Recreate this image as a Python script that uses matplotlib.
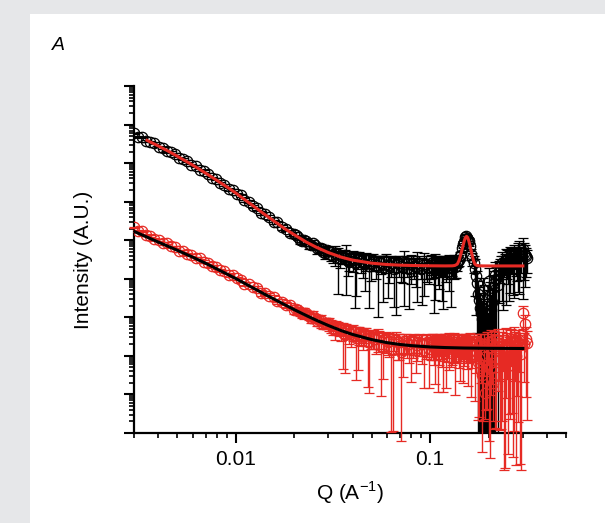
#Importing numpy and pyplot
import numpy as np
import matplotlib
matplotlib.use('Agg')
import matplotlib.pyplot as plt
from matplotlib.patches import Rectangle
from matplotlib.ticker import LogLocator, NullFormatter

plt.rcParams['font.family'] = 'Liberation Sans'
plt.rcParams['mathtext.fontset'] = 'custom'
plt.rcParams['mathtext.rm'] = 'Liberation Sans'

#Q values (A^-1), first run of points, same for both curves
q = [0.0030, 0.00315, 0.0033, 0.00347, 0.00364, 0.00382, 0.00401, 0.00421, 0.00442, 0.00464,
     0.00487, 0.00512, 0.00537, 0.00564, 0.00592, 0.00622, 0.00653, 0.00686, 0.0072, 0.00756,
     0.00794, 0.00834, 0.00875, 0.00919, 0.00965, 0.0101,
     0.0106, 0.0111, 0.0117, 0.0123, 0.0129, 0.0135, 0.0142, 0.0149, 0.0157, 0.0164,
     0.0173, 0.0181, 0.0190, 0.0200, 0.0210, 0.0220, 0.0231, 0.0243, 0.0255, 0.0268, 0.0281, 0.0295,
     0.0310, 0.0323, 0.0336, 0.0349, 0.0363, 0.0378, 0.0393, 0.0409, 0.0425, 0.0442,
     0.0460, 0.0478, 0.0497, 0.0517, 0.0538, 0.0559, 0.0582, 0.0605, 0.0629, 0.0654,
     0.0680, 0.0708, 0.0736, 0.0765, 0.0796, 0.0828, 0.0861, 0.0896, 0.0931, 0.0969, 0.1007,
     0.1032, 0.1058, 0.1085, 0.1112, 0.1140, 0.1168, 0.1197, 0.1227, 0.1258, 0.1290, 0.1322, 0.1355,
     0.1389, 0.1424, 0.1459, 0.1496, 0.1533, 0.1572, 0.1611, 0.1651,
     0.1693, 0.1735, 0.1778, 0.1823, 0.1869, 0.1915, 0.1963, 0.2012, 0.2063, 0.2114, 0.2167, 0.2222,
     0.2277, 0.2334, 0.2393, 0.2453, 0.2514, 0.2577, 0.2641, 0.2707, 0.2775, 0.2844, 0.2915, 0.2988,
     0.3063, 0.3140]

#Upper data set (black), log10 of intensity
log_i_top = [7.77, 7.69, 7.67, 7.58, 7.56, 7.52, 7.43, 7.40, 7.31, 7.28, 7.24, 7.13, 7.11,
             7.05, 6.96, 6.93, 6.82, 6.79, 6.71, 6.62, 6.59, 6.48, 6.44, 6.33, 6.30, 6.20,
             6.17, 6.05, 6.00, 5.88, 5.83, 5.71, 5.69, 5.59, 5.48, 5.46, 5.34, 5.30, 5.19,
             5.17, 5.08, 4.99, 4.99, 4.87, 4.87, 4.80, 4.70, 4.74,
             4.62, 4.67, 4.53, 4.60, 4.61, 4.47, 4.52, 4.40, 4.52, 4.46, 4.38, 4.49, 4.39,
             4.45, 4.30, 4.42, 4.46, 4.32, 4.40, 4.26, 4.42, 4.32, 4.44, 4.28, 4.39, 4.32,
             4.41, 4.25, 4.39, 4.30, 4.42,
             4.28, 4.37, 4.40, 4.26, 4.36, 4.31, 4.40, 4.29, 4.37, 4.31, 4.40, 4.32,
             4.46, 4.59, 4.80, 4.95, 5.11, 5.00, 4.84, 4.53,
             4.25, 3.90, 3.45, 3.10, 3.70, 2.85, 3.35, 3.95, 3.20, 3.75, 4.10, 3.85,
             4.30, 4.42, 4.35, 4.48, 4.40, 4.55, 4.47, 4.60, 4.52, 4.65, 4.58, 4.77, 4.62, 4.55]

#Upper data set, relative error
rel_err_top = [0.04, 0.05, 0.04, 0.06, 0.05, 0.04, 0.05, 0.06, 0.04, 0.05, 0.06, 0.05, 0.04,
               0.06, 0.05, 0.07, 0.05, 0.06, 0.07, 0.05, 0.08, 0.06, 0.07, 0.09, 0.06, 0.08,
               0.09, 0.12, 0.08, 0.11, 0.10, 0.14, 0.09, 0.13, 0.12, 0.10, 0.16, 0.12, 0.18,
               0.11, 0.15, 0.20, 0.13, 0.22, 0.17, 0.25, 0.19, 0.28,
               0.30, 0.55, 0.88, 0.35, 0.40, 0.60, 0.32, 0.93, 0.45, 0.50, 0.80, 0.38, 0.65,
               0.42, 0.95, 0.48, 0.36, 0.85, 0.55, 0.90, 0.44, 0.60, 0.93, 0.40, 0.70, 0.52,
               0.90, 0.46, 0.85, 0.58, 0.62,
               0.45, 0.88, 0.50, 0.70, 0.40, 0.92, 0.55, 0.48, 0.80, 0.42, 0.60, 0.50,
               0.30, 0.25, 0.20, 0.18, 0.15, 0.18, 0.22, 0.35,
               0.80, 0.95, 1.20, 1.40, 1.10, 1.50, 1.30, 1.15, 1.45, 1.25, 1.10, 1.35,
               0.60, 0.90, 0.50, 0.93, 0.70, 0.88, 0.55, 0.92, 0.65, 0.90, 0.75, 0.95, 0.85, 0.60]

#Lower data set (red), log10 of intensity
log_i_bot = [5.33, 5.24, 5.23, 5.13, 5.11, 5.03, 5.01, 4.92, 4.92, 4.84, 4.82, 4.73, 4.72,
             4.65, 4.62, 4.53, 4.53, 4.44, 4.41, 4.33, 4.31, 4.23, 4.20, 4.09, 4.10, 4.02,
             3.98, 3.87, 3.87, 3.78, 3.75, 3.64, 3.64, 3.56, 3.52, 3.42, 3.41, 3.33, 3.31,
             3.19, 3.19, 3.12, 3.11, 2.99, 2.99, 2.93, 2.83, 2.86,
             2.79, 2.68, 2.76, 2.68, 2.55, 2.66, 2.58, 2.62, 2.47, 2.55, 2.56, 2.35, 2.49,
             2.43, 2.49, 2.26, 2.43, 2.37, 2.18, 2.41, 2.36, 2.09, 2.39, 2.33, 2.15, 2.38,
             2.29, 2.34, 2.16, 2.37, 2.28,
             2.34, 2.19, 2.37, 2.29, 2.33, 2.16, 2.37, 2.30, 2.34, 2.19, 2.37, 2.28,
             2.32, 2.16, 2.35, 2.30, 2.34, 2.23, 2.37, 2.28, 2.13, 2.35,
             1.95, 2.30, 1.60, 1.05, 2.32, 1.80, 2.38, 1.30, 2.25, 2.40, 1.90, 2.32,
             2.05, 2.42, 1.75, 2.36, 2.21, 2.44, 2.00, 2.37, 2.29, 3.10, 2.82, 2.34]

#Lower data set, relative error
rel_err_bot = [0.05, 0.06, 0.05, 0.07, 0.05, 0.06, 0.05, 0.07, 0.06, 0.05, 0.07, 0.06, 0.08,
               0.06, 0.07, 0.08, 0.06, 0.09, 0.07, 0.08, 0.10, 0.07, 0.09, 0.08, 0.10, 0.09,
               0.12, 0.10, 0.14, 0.11, 0.13, 0.16, 0.12, 0.15, 0.18, 0.14, 0.17, 0.20, 0.15,
               0.22, 0.18, 0.25, 0.20, 0.28, 0.22, 0.30, 0.25, 0.32,
               0.35, 0.45, 0.30, 0.50, 0.90, 0.40, 0.55, 0.38, 0.85, 0.48, 0.42, 0.93, 0.52,
               0.45, 0.60, 0.95, 0.50, 0.55, 0.993, 0.48, 0.65, 0.995, 0.52, 0.58, 0.85, 0.50,
               0.62, 0.55, 0.90, 0.60, 0.58,
               0.65, 0.88, 0.55, 0.70, 0.60, 0.92, 0.58, 0.66, 0.80, 0.62, 0.70, 0.64,
               0.68, 0.85, 0.62, 0.72, 0.66, 0.90, 0.70, 0.75, 0.95, 0.68,
               0.97, 0.90, 0.95, 0.80, 0.98, 0.99, 0.96, 0.90, 0.993, 0.95, 0.985, 0.99,
               0.999, 0.97, 0.995, 0.99, 0.98, 0.996, 0.9985, 0.992, 0.9992, 0.60, 0.70, 0.99]

#Second run of points (Q > 0.02), between the first ones
q2 = [0.0205, 0.0215, 0.0225, 0.0237, 0.0249, 0.0261, 0.0274, 0.0288, 0.0302, 0.0316,
      0.0330, 0.0343, 0.0356, 0.0370, 0.0385, 0.0401, 0.0417, 0.0433, 0.0451, 0.0469,
      0.0487, 0.0507, 0.0527, 0.0548, 0.0570, 0.0593, 0.0617, 0.0641, 0.0667, 0.0694,
      0.0722, 0.0750, 0.0780, 0.0812, 0.0844, 0.0878, 0.0913, 0.0950, 0.0988, 0.1020,
      0.1045, 0.1071, 0.1098, 0.1126, 0.1154, 0.1182, 0.1212, 0.1242, 0.1274, 0.1306,
      0.1338, 0.1372, 0.1406, 0.1441, 0.1477, 0.1514, 0.1552, 0.1591, 0.1631, 0.1672,
      0.1714, 0.1756, 0.1800, 0.1846, 0.1892, 0.1939, 0.1987, 0.2037, 0.2088, 0.2140,
      0.2194, 0.2249, 0.2305, 0.2363, 0.2423, 0.2483, 0.2545, 0.2609, 0.2674, 0.2741,
      0.2809, 0.2879, 0.2951, 0.3025, 0.3100]

log_i_top2 = [5.14, 5.01, 5.00, 4.89, 4.92, 4.79, 4.81, 4.67, 4.72, 4.60,
              4.67, 4.53, 4.58, 4.59, 4.44, 4.53, 4.43, 4.54, 4.42, 4.49,
              4.33, 4.47, 4.37, 4.44, 4.31, 4.46, 4.35, 4.42, 4.28, 4.40,
              4.30, 4.43, 4.26, 4.40, 4.31, 4.42, 4.27, 4.38, 4.29, 4.41,
              4.26, 4.39, 4.30, 4.42, 4.28, 4.38, 4.32, 4.41, 4.27, 4.39,
              4.31, 4.42, 4.49, 4.62, 4.89, 5.08, 5.07, 4.97, 4.65, 4.42,
              4.07, 3.60, 3.25, 2.95, 3.50, 3.05, 2.70, 3.60, 3.40, 3.90,
              4.00, 4.20, 4.38, 4.30, 4.45, 4.52, 4.43, 4.58, 4.50, 4.62,
              4.55, 4.70, 4.60, 4.68, 4.58]

rel_err_top2 = [0.18, 0.22, 0.16, 0.25, 0.20, 0.28, 0.22, 0.32, 0.25, 0.35,
                0.30, 0.45, 0.38, 0.90, 0.42, 0.55, 0.87, 0.40, 0.60, 0.48,
                0.92, 0.45, 0.58, 0.40, 0.88, 0.50, 0.65, 0.43, 0.94, 0.55,
                0.60, 0.48, 0.91, 0.52, 0.70, 0.45, 0.89, 0.58, 0.62, 0.50,
                0.93, 0.55, 0.66, 0.48, 0.86, 0.52, 0.60, 0.45, 0.90, 0.58,
                0.50, 0.40, 0.30, 0.25, 0.20, 0.16, 0.18, 0.22, 0.30, 0.45,
                0.90, 1.20, 1.35, 1.50, 1.15, 1.40, 1.60, 1.10, 1.30, 1.05,
                0.98, 0.85, 0.60, 0.92, 0.55, 0.70, 0.90, 0.62, 0.88, 0.58,
                0.75, 0.92, 0.65, 0.80, 0.70]

log_i_bot2 = [3.21, 3.13, 3.12, 3.04, 3.03, 2.91, 2.92, 2.85, 2.85, 2.71,
              2.77, 2.70, 2.59, 2.68, 2.60, 2.64, 2.46, 2.57, 2.51, 2.55,
              2.35, 2.49, 2.43, 2.48, 2.23, 2.43, 2.38, 2.15, 2.42, 2.35,
              2.16, 2.39, 2.30, 2.35, 2.16, 2.37, 2.30, 2.34, 2.18, 2.36,
              2.29, 2.33, 2.16, 2.37, 2.26, 2.34, 2.18, 2.36, 2.29, 2.32,
              2.15, 2.37, 2.29, 2.33, 2.21, 2.36, 2.28, 2.34, 2.15, 2.36,
              2.26, 1.85, 2.34, 1.50, 2.30, 2.00, 2.37, 1.65, 2.28, 2.40,
              1.95, 2.34, 2.10, 2.42, 1.80, 2.32, 2.20, 2.44, 1.90, 2.35,
              2.25, 2.40, 2.05, 2.32, 2.45]

rel_err_bot2 = [0.26, 0.22, 0.30, 0.24, 0.33, 0.27, 0.35, 0.30, 0.38, 0.32,
                0.40, 0.35, 0.88, 0.42, 0.50, 0.45, 0.92, 0.48, 0.55, 0.50,
                0.95, 0.52, 0.58, 0.50, 0.85, 0.55, 0.62, 0.992, 0.58, 0.65,
                0.80, 0.55, 0.68, 0.60, 0.75, 0.58, 0.70, 0.62, 0.90, 0.60,
                0.70, 0.64, 0.92, 0.58, 0.72, 0.66, 0.90, 0.62, 0.74, 0.68,
                0.93, 0.60, 0.75, 0.66, 0.88, 0.62, 0.76, 0.70, 0.94, 0.64,
                0.80, 0.97, 0.70, 0.99, 0.85, 0.96, 0.75, 0.995, 0.90, 0.80,
                0.985, 0.90, 0.99, 0.85, 0.998, 0.88, 0.98, 0.80, 0.997, 0.90,
                0.95, 0.85, 0.999, 0.90, 0.97]

#Fit through the upper data set (red line)
q_fit_top = [0.0035, 0.004, 0.0045, 0.005, 0.006, 0.007, 0.008, 0.009, 0.010, 0.012, 0.014,
             0.016, 0.018, 0.020, 0.023, 0.026, 0.030, 0.035, 0.040, 0.050, 0.060, 0.070,
             0.080, 0.100, 0.120, 0.130, 0.134, 0.138, 0.141, 0.144, 0.146, 0.148, 0.150,
             0.152, 0.154, 0.156, 0.158, 0.160, 0.162, 0.164, 0.167, 0.170, 0.174, 0.180,
             0.200, 0.250, 0.300]
log_fit_top = [7.59, 7.445, 7.31, 7.18, 6.951, 6.742, 6.553, 6.384, 6.226, 5.931, 5.680,
               5.472, 5.290, 5.143, 4.957, 4.817, 4.679, 4.559, 4.484, 4.405, 4.370, 4.353,
               4.345, 4.337, 4.334, 4.336, 4.345, 4.38, 4.48, 4.64, 4.76, 4.88, 4.99,
               5.07, 5.10, 5.07, 4.99, 4.88, 4.76, 4.64, 4.48, 4.38, 4.345, 4.335,
               4.333, 4.333, 4.333]

#Fit through the lower data set (black line)
q_fit_bot = [0.003, 0.0035, 0.004, 0.005, 0.006, 0.007, 0.008, 0.009, 0.010, 0.012, 0.014,
             0.016, 0.018, 0.020, 0.023, 0.026, 0.030, 0.035, 0.040, 0.050, 0.060, 0.070,
             0.080, 0.100, 0.120, 0.150, 0.200, 0.300]
log_fit_bot = [5.230, 5.081, 4.951, 4.741, 4.562, 4.403, 4.254, 4.125, 4.007, 3.791, 3.607,
               3.454, 3.319, 3.200, 3.050, 2.924, 2.787, 2.653, 2.555, 2.423, 2.344, 2.296,
               2.266, 2.232, 2.216, 2.204, 2.197, 2.192]

red = '#e62a24'

#Join both runs of points
q_all = np.array(q + q2)
i_top = 10 ** np.array(log_i_top + log_i_top2)
i_bot = 10 ** np.array(log_i_bot + log_i_bot2)
err_top = i_top * np.array(rel_err_top + rel_err_top2)
err_bot = i_bot * np.array(rel_err_bot + rel_err_bot2)

#Figure with grey frame and white panel
fig = plt.figure(figsize=(6.05, 5.23), dpi=100, facecolor='#e6e7e9')
fig.add_artist(Rectangle((30 / 605, 0), 1, 509 / 523, transform=fig.transFigure,
                         facecolor='white', edgecolor='none', zorder=0))
ax = fig.add_axes([134 / 605, 90 / 523, 432 / 605, 347 / 523])
ax.set_xscale('log')
ax.set_yscale('log')

#Data with error bars
ax.errorbar(q_all, i_top, yerr=err_top, fmt='o', ms=7.5, mfc='none', mec='black', mew=0.9,
            ecolor='black', elinewidth=1.0, capsize=3.5, capthick=1.0, zorder=2)
eb = ax.errorbar(q_all, i_bot, yerr=err_bot, fmt='o', ms=7.5, mfc='none', mec=red, mew=0.9,
                 ecolor=red, elinewidth=1.0, capsize=3.5, capthick=1.0, zorder=3)
for art in list(eb.lines[1]) + list(eb.lines[2]):
    art.set_clip_on(False)

#Fits
ax.plot(q_fit_top, 10 ** np.array(log_fit_top), color=red, lw=2.2, zorder=5)
ax.plot(q_fit_bot, 10 ** np.array(log_fit_bot), color='black', lw=2.2, zorder=5)

#Axes and ticks
ax.set_xlim(0.003, 0.5)
ax.set_ylim(1, 1e9)
ax.spines['top'].set_visible(False)
ax.spines['right'].set_visible(False)
ax.spines['left'].set_linewidth(1.6)
ax.spines['bottom'].set_linewidth(1.6)
ax.set_xticks([0.01, 0.1])
ax.set_xticklabels(['0.01', '0.1'])
ax.xaxis.set_minor_locator(LogLocator(base=10, subs=np.arange(2, 10), numticks=20))
ax.xaxis.set_minor_formatter(NullFormatter())
ax.yaxis.set_major_locator(LogLocator(base=10, numticks=20))
ax.yaxis.set_minor_locator(LogLocator(base=10, subs=np.arange(2, 10), numticks=20))
ax.yaxis.set_major_formatter(NullFormatter())
ax.yaxis.set_minor_formatter(NullFormatter())
ax.tick_params(which='major', direction='out', length=7, width=1.5, labelsize=15, pad=5)
ax.tick_params(which='minor', direction='out', length=3.5, width=1.2)

#Labels
ax.set_xlabel('Q (A$^{-1}$)', fontsize=15)
ax.xaxis.set_label_coords(0.5, -0.134)
ax.set_ylabel('Intensity (A.U.)', fontsize=15)
ax.yaxis.set_label_coords(-0.094, 0.5)
fig.text(58 / 605, 1 - 46 / 523, 'A', fontsize=14, style='italic', ha='center', va='center')

#Save File
fig.savefig('out.png', dpi=100, facecolor=fig.get_facecolor())
